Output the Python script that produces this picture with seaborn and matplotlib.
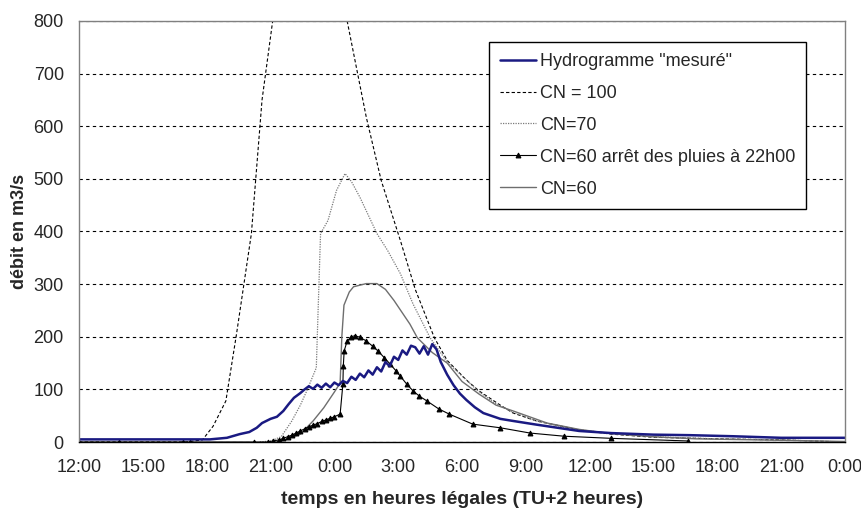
import numpy as np
import pandas as pd
import matplotlib
matplotlib.use("Agg")
import matplotlib.pyplot as plt
import seaborn as sns

# hours counted from 12:00 on the first day
tick_hours = list(range(0, 37, 3))
tick_labels = ["12:00", "15:00", "18:00", "21:00", "0:00", "3:00", "6:00",
               "9:00", "12:00", "15:00", "18:00", "21:00", "0:00"]
y_ticks = list(range(0, 801, 100))

meas_h = [0, 3, 5, 6.15, 6.95, 7.55, 8.0, 8.35, 8.6, 9.0, 9.3, 9.6, 9.85, 10.1,
          10.4, 10.6, 10.8, 11.0, 11.2, 11.4, 11.6, 11.8, 12.0, 12.2, 12.4, 12.6,
          12.8, 13.0, 13.2, 13.4, 13.6, 13.8, 14.0, 14.2, 14.4, 14.6, 14.8, 15.0,
          15.2, 15.4, 15.6, 15.8, 16.0, 16.2, 16.4, 16.6, 16.8, 17.0, 17.3, 17.6,
          17.9, 18.2, 18.6, 19.0, 19.8, 20.4, 21.5, 23.5, 25.0, 27.0, 28.7, 30.7,
          33.0, 36.0]
meas_v = [5, 5, 5, 5, 8, 15, 19, 27, 36, 44, 48, 59, 72, 84,
          93, 100, 106, 101, 109, 103, 111, 104, 113, 108, 116, 112,
          124, 118, 130, 123, 136, 128, 142, 134, 152, 144, 162, 156,
          174, 166, 183, 180, 168, 182, 166, 186, 176, 152, 128, 108,
          92, 80, 66, 55, 44, 40, 33, 21, 17, 14, 13, 11,
          8, 8]

cn100_h = [0, 5.0, 5.8, 6.3, 6.9, 7.4, 8.1, 8.6, 9.1, 10.0, 10.9, 11.8, 12.6,
           13.5, 14.2, 15.1, 15.8, 16.7, 17.3, 18.2, 18.8, 19.8, 20.4, 21.5,
           23.5, 25.0, 27.0, 30.0, 33.0, 36.0]
cn100_v = [0, 0, 4, 30, 78, 205, 396, 650, 800, 1000, 1100, 1000, 800,
           617, 497, 383, 290, 198, 155, 118, 97, 70, 55, 40,
           23, 15, 9, 6, 4, 0]

cn70_h = [8.5, 9.0, 9.5, 10.0, 10.4, 10.7, 11.15, 11.25, 11.35, 11.7, 12.1,
          12.5, 12.8, 13.2, 14.0, 14.5, 15.1, 15.7, 16.5, 17.3, 18.75, 19.5,
          20.4, 21.5, 23.0, 25.0, 27.0, 30.0, 33.0, 36.0]
cn70_v = [0, 2, 10, 40, 70, 97, 141, 269, 396, 421, 478,
          510, 495, 465, 396, 364, 320, 262, 198, 152, 97, 75,
          56, 40, 26, 16, 10, 6, 4, 0]

cn60_stop_h = [0, 1.9, 4.9, 5.2, 8.2, 8.9, 9.1, 9.4, 9.6, 9.8, 10.0, 10.2,
               10.4, 10.6, 10.8, 11.0, 11.2, 11.4, 11.6, 11.8, 12.0, 12.27,
               12.4, 12.42, 12.46, 12.6, 12.8, 12.97, 13.2, 13.5, 13.8, 14.05,
               14.35, 14.6, 14.9, 15.1, 15.4, 15.7, 16.0, 16.35, 16.9, 17.4,
               18.5, 19.8, 21.2, 22.8, 25.0, 28.6]
cn60_stop_v = [0, 0, 0, 0, 0, 0, 2, 4, 7, 10, 13, 17,
               21, 25, 29, 32, 35, 39, 42, 45, 48, 53,
               110, 145, 173, 192, 200, 202, 199, 192, 182, 173,
               160, 149, 135, 125, 110, 97, 87, 78, 63, 53,
               34, 27, 17, 11, 7, 2]

cn60_h = [9.1, 9.6, 10.4, 11.0, 11.5, 12.0, 12.27, 12.35, 12.45, 12.7, 12.9,
          13.5, 14.0, 14.4, 14.8, 15.2, 15.55, 15.9, 16.6, 17.3, 18.0, 18.8,
          19.6, 20.4, 22.0, 23.5, 25.0, 27.0, 29.0, 32.0, 36.0]
cn60_v = [0, 3, 15, 40, 65, 95, 112, 200, 260, 285, 295,
          301, 301, 290, 269, 245, 224, 198, 170, 150, 115, 91,
          70, 59, 36, 24, 16, 10, 6, 4, 1]

sns.set_style("white")
plt.rcParams["font.family"] = ["Liberation Sans", "DejaVu Sans"]

fig = plt.figure(figsize=(8.61, 5.11), dpi=100)
ax = fig.add_axes([0.0918, 0.135, 0.8897, 0.824])

sns.lineplot(x=cn100_h, y=cn100_v, ax=ax, color="black", linewidth=0.8,
             linestyle=(0, (3, 2)), label="CN = 100")
sns.lineplot(x=cn70_h, y=cn70_v, ax=ax, color="#7a7a7a", linewidth=0.9,
             linestyle=(0, (1, 1)), label="CN=70")
sns.lineplot(x=cn60_h, y=cn60_v, ax=ax, color="#6e6e6e", linewidth=1.0,
             label="CN=60")
sns.lineplot(x=cn60_stop_h, y=cn60_stop_v, ax=ax, color="black", linewidth=0.8,
             marker="^", markersize=3.5, markeredgecolor="black",
             label="CN=60 arrêt des pluies à 22h00")
sns.lineplot(x=meas_h, y=meas_v, ax=ax, color="#1a1a82", linewidth=1.8,
             label='Hydrogramme "mesuré"')

ax.set_xlim(0, 36)
ax.set_ylim(0, 800)
ax.set_xticks(tick_hours)
ax.set_xticklabels(tick_labels)
ax.set_yticks(y_ticks)
ax.tick_params(axis="both", labelsize=13, length=4, width=0.8,
               direction="out", color="black", pad=7)
ax.tick_params(axis="x", pad=8)

ax.yaxis.grid(True, color="black", linestyle=(0, (3, 3)), linewidth=0.8)
ax.xaxis.grid(False)
for side in ["top", "right", "left"]:
    ax.spines[side].set_color("#808080")
    ax.spines[side].set_linewidth(1.0)
ax.spines["bottom"].set_color("black")
ax.spines["bottom"].set_linewidth(1.0)
for s in ax.spines.values():
    s.set_zorder(3)

ax.set_xlabel("temps en heures légales (TU+2 heures)", fontsize=14,
              fontweight="bold", labelpad=11)
ax.set_ylabel("débit en m3/s", fontsize=13, fontweight="bold", labelpad=4)

handles, labels = ax.get_legend_handles_labels()
order = ['Hydrogramme "mesuré"', "CN = 100", "CN=70",
         "CN=60 arrêt des pluies à 22h00", "CN=60"]
hmap = dict(zip(labels, handles))
leg = ax.legend([hmap[k] for k in order], order, loc="upper right",
                bbox_to_anchor=(0.949, 0.95), fontsize=13, frameon=True,
                fancybox=False, edgecolor="black", framealpha=1,
                labelspacing=0.83, handlelength=2.0, handletextpad=0.2,
                borderpad=0.6, borderaxespad=0)
leg.get_frame().set_linewidth(1.0)

fig.savefig("out.png", dpi=100)
